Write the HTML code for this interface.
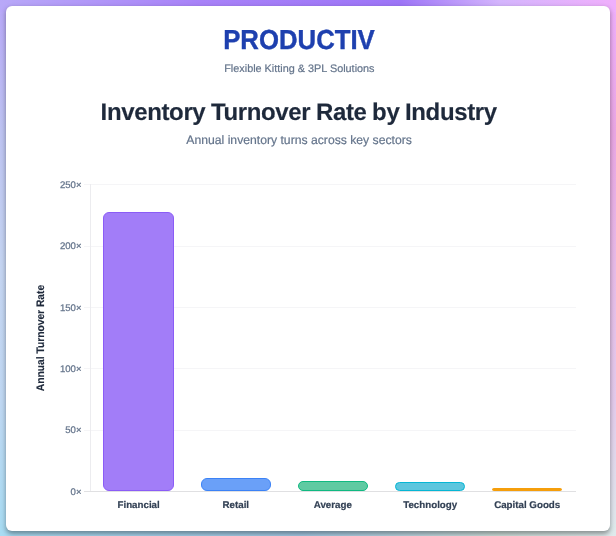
<!DOCTYPE html>
<html>
<head>
<meta charset="utf-8">
<title>Inventory Turnover Rate by Industry</title>
<style>
html,body{margin:0;padding:0;}
body{width:616px;height:536px;position:relative;overflow:hidden;background:#c5d5f2;font-family:"Liberation Sans",sans-serif;text-rendering:geometricPrecision;}
.bg{position:absolute;}
#bgt{left:0;top:0;width:616px;height:12px;background:linear-gradient(90deg,#b8a8f8 0px,#a882f8 200px,#9d75f7 400px,#d4b5fd 500px,#efaffc 612px);}
#bgb{left:0;top:524px;width:616px;height:12px;background:linear-gradient(90deg,#a8dcf3 0px,#a4cae6 300px,#cfe0dc 500px,#dfeaec 616px);}
#bgl{left:0;top:0;width:12px;height:536px;background:linear-gradient(180deg,#b8a8f8 0px,#bec4f2 132px,#c5d5f2 268px,#c0d8f3 402px,#a8dcf3 534px);}
#bgr{left:604px;top:0;width:12px;height:536px;background:linear-gradient(180deg,#efaffc 0px,#eaa6e4 132px,#e8bbe8 268px,#e4cbec 402px,#dfeaec 534px);}
#card{position:absolute;left:5.6px;top:5.6px;width:604.9px;height:525px;background:#fff;border-radius:6px;box-shadow:0 2.5px 5px rgba(0,0,0,0.38);}
#wrap{position:absolute;left:0;top:0;width:616px;height:536px;filter:blur(0.35px);}
.t{position:absolute;white-space:nowrap;line-height:1;}
.c{transform:translateX(-50%);}
#brand{left:299.4px;top:26.4px;font-size:27.5px;font-weight:bold;color:#1e40af;-webkit-text-stroke:0.4px #1e40af;transform:translateX(-50%) scaleX(0.936);}
#tag{left:299.4px;top:64.1px;font-size:10.85px;color:#64748b;-webkit-text-stroke:0.2px #64748b;}
#title{left:298.7px;top:101.2px;font-size:24px;font-weight:bold;color:#1e293b;-webkit-text-stroke:0.15px #1e293b;letter-spacing:-0.36px;word-spacing:-0.7px;}
#sub{left:299.1px;top:134.1px;font-size:12.2px;color:#64748b;-webkit-text-stroke:0.2px #64748b;}
.yl{right:534.5px;font-size:9.6px;color:#64748b;-webkit-text-stroke:0.25px #64748b;margin-top:0.8px;}
.xl{font-size:9.75px;font-weight:bold;color:#334155;top:501.2px;-webkit-text-stroke:0.2px #334155;}
#ytitle{left:40.9px;top:337.9px;font-size:10.9px;font-weight:bold;color:#1e293b;-webkit-text-stroke:0.15px #1e293b;transform:translate(-50%,-50%) rotate(-90deg) scaleX(0.942);}
.g{position:absolute;left:84px;width:492px;height:1px;background:#f5f5f7;}
#ax{position:absolute;left:89.6px;top:184px;width:1px;height:308px;background:#ececef;}
#bx{position:absolute;left:84px;top:490.9px;width:492px;height:1px;background:#e0e0e2;}
.bar{position:absolute;box-sizing:border-box;width:70.2px;border-radius:6px;border-width:1.9px;border-style:solid;}
</style>
</head>
<body>
<div class="bg" id="bgl"></div><div class="bg" id="bgr"></div><div class="bg" id="bgt"></div><div class="bg" id="bgb"></div>
<div id="card"></div>
<div id="wrap">

<div class="t c" id="brand">PRODUCTIV</div>
<div class="t c" id="tag">Flexible Kitting &amp; 3PL Solutions</div>
<div class="t c" id="title">Inventory Turnover Rate by Industry</div>
<div class="t c" id="sub">Annual inventory turns across key sectors</div>

<div class="g" style="top:184.1px"></div>
<div class="g" style="top:245.5px"></div>
<div class="g" style="top:306.9px"></div>
<div class="g" style="top:368.2px"></div>
<div class="g" style="top:429.6px"></div>
<div id="ax"></div>
<div id="bx"></div>

<div class="t yl" style="top:180px">250×</div>
<div class="t yl" style="top:241.4px">200×</div>
<div class="t yl" style="top:302.8px">150×</div>
<div class="t yl" style="top:364.1px">100×</div>
<div class="t yl" style="top:425.5px">50×</div>
<div class="t yl" style="top:486.8px">0×</div>

<div class="t" id="ytitle">Annual Turnover Rate</div>

<div class="bar" style="left:103.4px;top:212px;height:279px;background:#a27df8;border-color:#8b5cf6;"></div>
<div class="bar" style="left:200.7px;top:477.5px;height:13.5px;background:#6aa0f8;border-color:#3b82f6;"></div>
<div class="bar" style="left:297.7px;top:481px;height:10px;background:#5fcaa2;border-color:#10b981;"></div>
<div class="bar" style="left:394.7px;top:481.7px;height:9.3px;background:#5cc6de;border-color:#06b6d4;"></div>
<div class="bar" style="left:492.2px;top:488.2px;height:2.9px;background:#f59e0b;border-color:#f59e0b;border-width:1px;"></div>

<div class="t c xl" style="left:138.6px">Financial</div>
<div class="t c xl" style="left:235.8px">Retail</div>
<div class="t c xl" style="left:332.8px">Average</div>
<div class="t c xl" style="left:430.2px">Technology</div>
<div class="t c xl" style="left:527.2px">Capital Goods</div>
</div>
</body>
</html>
